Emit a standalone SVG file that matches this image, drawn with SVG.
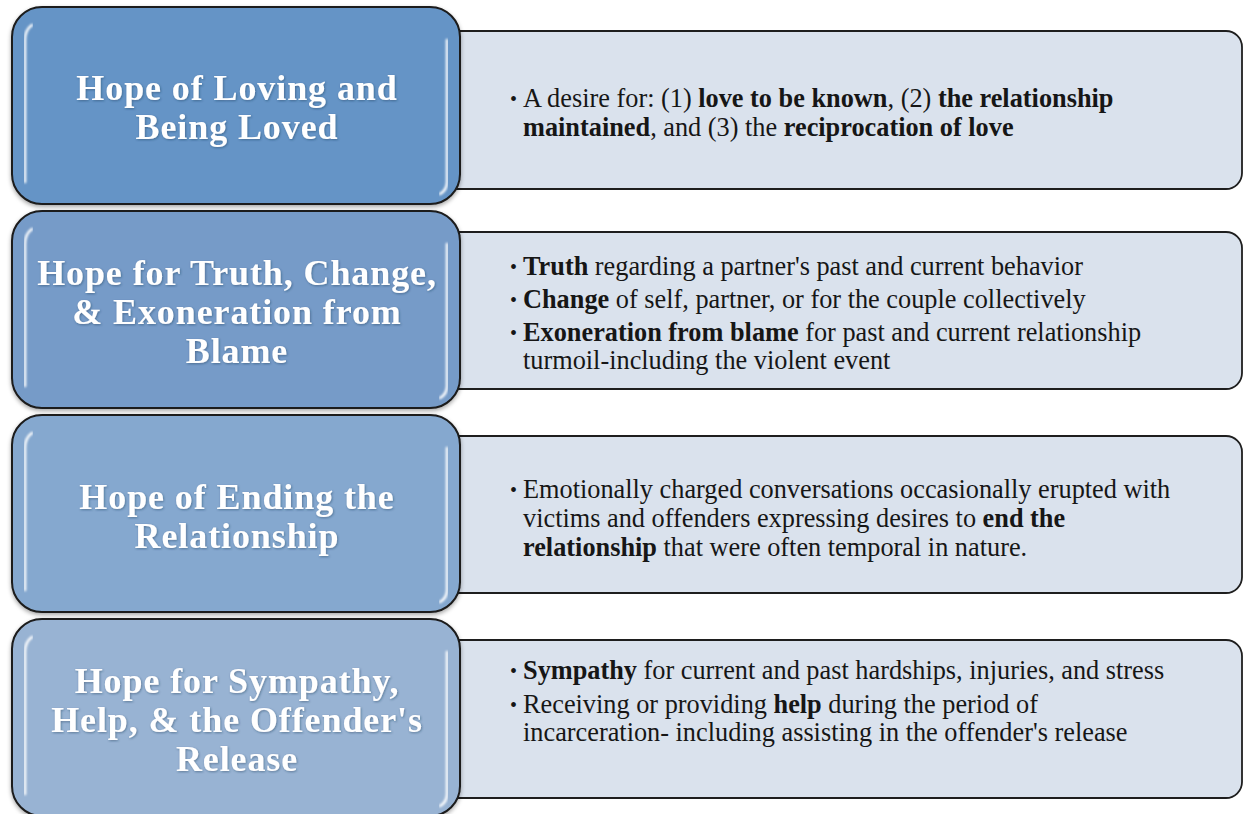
<svg xmlns="http://www.w3.org/2000/svg" width="1243" height="814" viewBox="0 0 1243 814">
  <defs>
    <style>
      .title { font-family: "Liberation Serif", "Times New Roman", serif; font-weight: bold; font-size: 36px; letter-spacing: 0.9px; fill: #ffffff; text-anchor: middle; }
      .body { font-family: "Liberation Serif", "Times New Roman", serif; font-size: 26.3px; fill: #161616; }
      .dot { font-family: "Liberation Serif", "Times New Roman", serif; font-size: 20px; fill: #161616; }
      .b { font-weight: bold; }
      .panel { fill: #dae2ed; stroke: #1e1e1e; stroke-width: 1.8; }
      .tab { stroke: #1a1a1a; stroke-width: 2; }
      .gloss { fill: none; stroke: #ffffff; stroke-linecap: round; }
    </style>
    <filter id="shadow" x="-5%" y="-5%" width="110%" height="115%">
      <feDropShadow dx="0" dy="2" stdDeviation="2" flood-color="#000000" flood-opacity="0.35"/>
    </filter>
    <filter id="textShadow" x="-5%" y="-20%" width="110%" height="140%">
      <feDropShadow dx="0.8" dy="1" stdDeviation="0.9" flood-color="#1d3550" flood-opacity="0.45"/>
    </filter>
    <filter id="soft" x="-5%" y="-50%" width="110%" height="200%">
      <feGaussianBlur stdDeviation="0.8"/>
    </filter>
    <linearGradient id="edgeFade" x1="0" y1="0" x2="0" y2="1">
      <stop offset="0" stop-color="#ffffff" stop-opacity="0.95"/>
      <stop offset="0.5" stop-color="#ffffff" stop-opacity="0.6"/>
      <stop offset="1" stop-color="#ffffff" stop-opacity="0.9"/>
    </linearGradient>
  </defs>

  <rect width="1243" height="814" fill="#ffffff"/>

  <!-- Row 1 -->
  <g id="row-loving">
    <g id="detail-loving">
      <rect class="panel" x="420" y="31" width="822" height="158" rx="16"/>
      <path class="gloss" d="M470 38 L1224 38" stroke-width="4" opacity="0.9" filter="url(#soft)"/>
      <path class="gloss" d="M470 182 L1224 182" stroke-width="4" opacity="0.9" filter="url(#soft)"/>
      <text class="dot" x="510" y="106">•</text>
      <text class="body" x="523" y="107">A desire for: (1) <tspan class="b">love to be known</tspan>, (2) <tspan class="b">the relationship</tspan></text>
      <text class="body" x="523" y="136"><tspan class="b">maintained</tspan>, and (3) the <tspan class="b">reciprocation of love</tspan></text>
    </g>
    <g id="theme-loving" filter="url(#shadow)">
      <rect class="tab" x="12" y="7" width="448" height="197" rx="30" fill="#6594c6"/>
    </g>
    <path class="gloss" d="M25 182 L25 40 Q25 30 32 25" stroke="url(#edgeFade)" stroke-width="2.5" filter="url(#soft)"/>
    <path class="gloss" d="M447 40 L447 182 Q447 190 440 194" stroke="url(#edgeFade)" stroke-width="2.5" filter="url(#soft)"/>
    <g filter="url(#textShadow)">
      <text class="title" x="237" y="100">Hope of Loving and</text>
      <text class="title" x="237" y="139">Being Loved</text>
    </g>
  </g>

  <!-- Row 2 -->
  <g id="row-truth">
    <g id="detail-truth">
      <rect class="panel" x="420" y="232" width="822" height="157" rx="16"/>
      <path class="gloss" d="M470 239 L1224 239" stroke-width="4" opacity="0.9" filter="url(#soft)"/>
      <path class="gloss" d="M470 382 L1224 382" stroke-width="4" opacity="0.9" filter="url(#soft)"/>
      <text class="dot" x="510" y="274">•</text>
      <text class="body" x="523" y="275"><tspan class="b">Truth</tspan> regarding a partner's past and current behavior</text>
      <text class="dot" x="510" y="307">•</text>
      <text class="body" x="523" y="308"><tspan class="b">Change</tspan> of self, partner, or for the couple collectively</text>
      <text class="dot" x="510" y="340">•</text>
      <text class="body" x="523" y="341"><tspan class="b">Exoneration from blame</tspan> for past and current relationship</text>
      <text class="body" x="523" y="369">turmoil-including the violent event</text>
    </g>
    <g id="theme-truth" filter="url(#shadow)">
      <rect class="tab" x="12" y="211" width="448" height="197" rx="30" fill="#769bc8"/>
    </g>
    <path class="gloss" d="M25 386 L25 244 Q25 234 32 229" stroke="url(#edgeFade)" stroke-width="2.5" filter="url(#soft)"/>
    <path class="gloss" d="M447 244 L447 386 Q447 394 440 398" stroke="url(#edgeFade)" stroke-width="2.5" filter="url(#soft)"/>
    <g filter="url(#textShadow)">
      <text class="title" x="237" y="285">Hope for Truth, Change,</text>
      <text class="title" x="237" y="324">&amp; Exoneration from</text>
      <text class="title" x="237" y="363">Blame</text>
    </g>
  </g>

  <!-- Row 3 -->
  <g id="row-ending">
    <g id="detail-ending">
      <rect class="panel" x="420" y="436" width="822" height="157" rx="16"/>
      <path class="gloss" d="M470 443 L1224 443" stroke-width="4" opacity="0.9" filter="url(#soft)"/>
      <path class="gloss" d="M470 586 L1224 586" stroke-width="4" opacity="0.9" filter="url(#soft)"/>
      <text class="dot" x="510" y="497">•</text>
      <text class="body" x="523" y="498">Emotionally charged conversations occasionally erupted with</text>
      <text class="body" x="523" y="527">victims and offenders expressing desires to <tspan class="b">end the</tspan></text>
      <text class="body" x="523" y="556"><tspan class="b">relationship</tspan> that were often temporal in nature.</text>
    </g>
    <g id="theme-ending" filter="url(#shadow)">
      <rect class="tab" x="12" y="415" width="448" height="197" rx="30" fill="#85a8cf"/>
    </g>
    <path class="gloss" d="M25 590 L25 448 Q25 438 32 433" stroke="url(#edgeFade)" stroke-width="2.5" filter="url(#soft)"/>
    <path class="gloss" d="M447 448 L447 590 Q447 598 440 602" stroke="url(#edgeFade)" stroke-width="2.5" filter="url(#soft)"/>
    <g filter="url(#textShadow)">
      <text class="title" x="237" y="509">Hope of Ending the</text>
      <text class="title" x="237" y="548">Relationship</text>
    </g>
  </g>

  <!-- Row 4 -->
  <g id="row-sympathy">
    <g id="detail-sympathy">
      <rect class="panel" x="420" y="640" width="822" height="158" rx="16"/>
      <path class="gloss" d="M470 647 L1224 647" stroke-width="4" opacity="0.9" filter="url(#soft)"/>
      <path class="gloss" d="M470 791 L1224 791" stroke-width="4" opacity="0.9" filter="url(#soft)"/>
      <text class="dot" x="510" y="678">•</text>
      <text class="body" x="523" y="679"><tspan class="b">Sympathy</tspan> for current and past hardships, injuries, and stress</text>
      <text class="dot" x="510" y="712">•</text>
      <text class="body" x="523" y="713">Receiving or providing <tspan class="b">help</tspan> during the period of</text>
      <text class="body" x="523" y="741">incarceration- including assisting in the offender's release</text>
    </g>
    <g id="theme-sympathy" filter="url(#shadow)">
      <rect class="tab" x="12" y="619" width="448" height="197" rx="30" fill="#98b3d3"/>
    </g>
    <path class="gloss" d="M25 794 L25 652 Q25 642 32 637" stroke="url(#edgeFade)" stroke-width="2.5" filter="url(#soft)"/>
    <path class="gloss" d="M447 652 L447 794 Q447 802 440 806" stroke="url(#edgeFade)" stroke-width="2.5" filter="url(#soft)"/>
    <g filter="url(#textShadow)">
      <text class="title" x="237" y="693">Hope for Sympathy,</text>
      <text class="title" x="237" y="732">Help, &amp; the Offender's</text>
      <text class="title" x="237" y="771">Release</text>
    </g>
  </g>
</svg>
